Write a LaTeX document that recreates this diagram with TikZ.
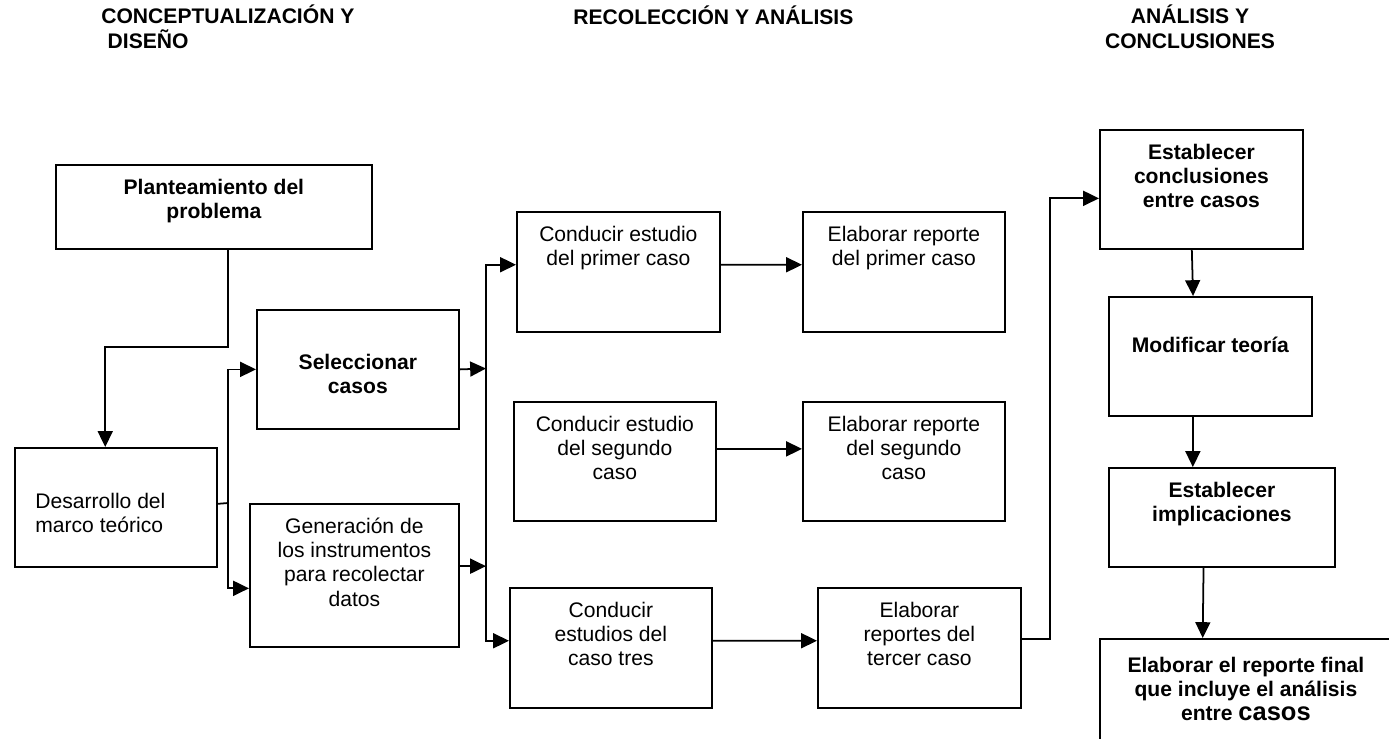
\documentclass[tikz,border=0pt]{standalone}
\usepackage{fontspec}
\setmainfont{Liberation Sans}
\usepackage{tikz}
\usetikzlibrary{arrows.meta}

\tikzset{
    caja/.style={draw, line width=1pt, anchor=north west, inner sep=0pt},
    texto/.style={anchor=north, align=center, inner sep=0pt, yshift=-2.9mm, font=\fontsize{12}{13.8}\selectfont},
    negrita/.style={texto, font=\fontsize{12}{13.8}\selectfont\bfseries},
    titulo/.style={inner sep=0pt, align=left, font=\fontsize{12}{13.8}\selectfont\bfseries},
    flecha/.style={line width=1pt, -{Triangle[length=9pt,width=8.5pt]}},
    linea/.style={line width=1pt}
}

\begin{document}
\begin{tikzpicture}[x=0.2mm, y=-0.2mm]
                \useasboundingbox (0,0) rectangle (1389,738);
                \clip (0,0) rectangle (1389,738);

                \node[titulo, anchor=base west] (fase1) at (101,48) {CONCEPTUALIZACIÓN Y\\\hspace*{0.3em}DISEÑO};
                \node[titulo, anchor=base west] (fase2) at (573,24) {RECOLECCIÓN Y ANÁLISIS};
                \node[titulo, anchor=base, align=center] (fase3) at (1190,48) {ANÁLISIS Y\\CONCLUSIONES};

                \node[caja, minimum width=63.2mm, minimum height=16.8mm, label={[negrita]north:Planteamiento del\\problema}] (plant) at (55,164) {};
                \node[caja, minimum width=40.4mm, minimum height=23.8mm, label={[texto, align=left, anchor=north west, xshift=4.2mm, yshift=-6.2mm]north west:Desarrollo del\\marco teórico}] (desa) at (14,447) {};
                \node[caja, minimum width=40.4mm, minimum height=23.8mm, label={[negrita, yshift=-6mm]north:Seleccionar\\casos}] (sel) at (256,309) {};
                \node[caja, minimum width=41.8mm, minimum height=28.6mm, label={[texto]north:Generación de\\los instrumentos\\para recolectar\\datos}] (gen) at (249,503) {};

                \node[caja, minimum width=40.6mm, minimum height=24mm, label={[texto]north:Conducir estudio\\del primer caso}] (cond1) at (516,211) {};
                \node[caja, minimum width=40.4mm, minimum height=24mm, label={[texto]north:Elaborar reporte\\del primer caso}] (elab1) at (802,211) {};
                \node[caja, minimum width=40.4mm, minimum height=23.8mm, label={[texto]north:Conducir estudio\\del segundo\\caso}] (cond2) at (513,401) {};
                \node[caja, minimum width=40.4mm, minimum height=23.8mm, label={[texto]north:Elaborar reporte\\del segundo\\caso}] (elab2) at (802,401) {};
                \node[caja, minimum width=40.4mm, minimum height=24mm, label={[texto]north:Conducir\\estudios del\\caso tres}] (cond3) at (509,587) {};
                \node[caja, minimum width=40.6mm, minimum height=24mm, label={[texto]north:Elaborar\\reportes del\\tercer caso}] (elab3) at (817,587) {};

                \node[caja, minimum width=40.6mm, minimum height=23.8mm, label={[negrita]north:Establecer\\conclusiones\\entre casos}] (conc) at (1099,129) {};
                \node[caja, minimum width=40.6mm, minimum height=23.8mm, label={[negrita, yshift=-5.2mm]north:Modificar teoría}] (mod) at (1108,296) {};
                \node[caja, minimum width=45.2mm, minimum height=19.8mm, label={[negrita]north:Establecer\\implicaciones}] (impl) at (1108,467) {};
                \node[caja, minimum width=58.4mm, minimum height=28.4mm, label={[negrita, yshift=-0.8mm]north:Elaborar el reporte final\\que incluye el análisis\\entre {\fontsize{14.5}{14}\selectfont casos}}] (final) at (1099,638) {};

                \coordinate (t1) at (228,503);
                \coordinate (t2) at (486,368.5);
                \coordinate (t3) at (1050,400);

                \draw[flecha] (plant.south -| t1) -- (228,347) -| (desa.100);
                \draw[linea] (desa.2) -- (t1);
                \draw[flecha] (t1) |- (sel.west);
                \draw[flecha] (t1) |- (gen.-173);

                \draw[flecha] (sel.east) -- (t2);
                \draw[flecha] (gen.5) -- (gen.5 -| t2);
                \draw[flecha] (t2) |- (cond1.176);
                \draw[flecha] (t2) |- (cond3.176);

                \draw[flecha] (cond1.4) -- (elab1.176);
                \draw[flecha] (cond2.7) -- (elab2.173);
                \draw[flecha] (cond3.4) -- (elab3.176);

                \draw[flecha] (elab3.5) -| (t3) |- (conc.185);
                \draw[flecha] (conc.-99) -- (mod.106);
                \draw[flecha] (mod.-106) -- (impl.120);
                \draw[flecha] (impl.-110) -- (final.121);
            \end{tikzpicture}
\end{document}
